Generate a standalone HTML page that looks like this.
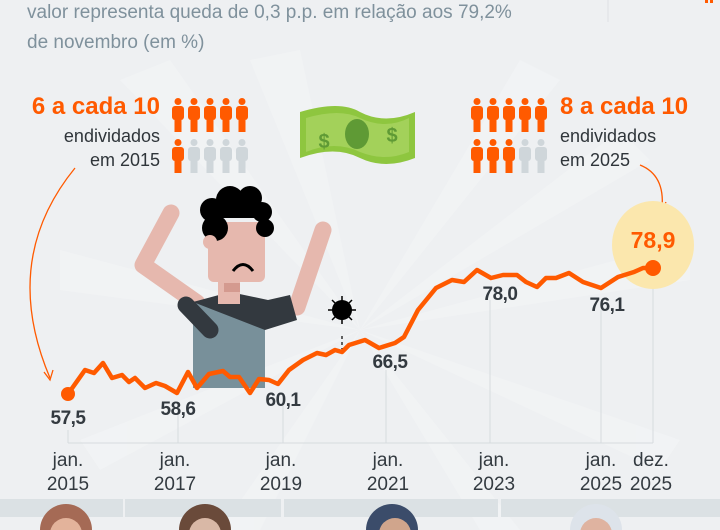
<!DOCTYPE html>
<html><head><meta charset="utf-8"><style>
body{margin:0;width:720px;height:530px;overflow:hidden;background:#eef0f2;font-family:"Liberation Sans",sans-serif}
</style></head><body>
<svg width="720" height="530" viewBox="0 0 720 530" style="position:absolute;left:0;top:0" font-family="Liberation Sans, sans-serif">
<g fill="#f4f5f6" opacity="0.6">
<polygon points="360,330 120,80 170,60"/><polygon points="360,330 250,60 300,50"/><polygon points="360,330 520,60 560,80"/>
<polygon points="360,330 60,250 60,290"/><polygon points="360,330 80,440 100,470"/><polygon points="360,330 220,530 260,530"/>
<polygon points="360,330 480,530 520,530"/><polygon points="360,330 680,440 660,470"/><polygon points="360,330 690,240 690,280"/>
<polygon points="360,330 620,130 650,160"/>
</g>
<line x1="608" y1="0" x2="608" y2="22" stroke="#dde1e4"/>
<text x="27" y="18" font-size="19" fill="#7f919c">valor representa queda de 0,3 p.p. em relação aos 79,2%</text>
<text x="27" y="48" font-size="19" fill="#7f919c">de novembro (em %)</text>
<rect x="705" y="0" width="3" height="3" fill="#ff5a00"/><rect x="710" y="0" width="3" height="3" fill="#ff5a00"/>
<text x="160" y="114" font-size="24" font-weight="bold" fill="#ff5a00" text-anchor="end">6 a cada 10</text>
<text x="160" y="142" font-size="18" fill="#2f353a" text-anchor="end">endividados</text>
<text x="160" y="166" font-size="18" fill="#2f353a" text-anchor="end">em 2015</text>
<text x="560" y="114" font-size="24" font-weight="bold" fill="#ff5a00">8 a cada 10</text>
<text x="560" y="142" font-size="18" fill="#2f353a">endividados</text>
<text x="560" y="166" font-size="18" fill="#2f353a">em 2025</text>
<defs>
<g id="p"><circle cx="7" cy="3.5" r="3.5"/><rect x="1" y="8" width="12" height="14" rx="3"/><rect x="3.5" y="18" width="7" height="16"/></g>
</defs>
<g fill="#ff5a00">
<use href="#p" x="171" y="98"/><use href="#p" x="187" y="98"/><use href="#p" x="203" y="98"/><use href="#p" x="219" y="98"/><use href="#p" x="235" y="98"/>
<use href="#p" x="171" y="139"/>
<use href="#p" x="470" y="98"/><use href="#p" x="486" y="98"/><use href="#p" x="502" y="98"/><use href="#p" x="518" y="98"/><use href="#p" x="534" y="98"/>
<use href="#p" x="470" y="139"/><use href="#p" x="486" y="139"/><use href="#p" x="502" y="139"/>
</g>
<g fill="#cfd6da">
<use href="#p" x="187" y="139"/><use href="#p" x="203" y="139"/><use href="#p" x="219" y="139"/><use href="#p" x="235" y="139"/>
<use href="#p" x="518" y="139"/><use href="#p" x="534" y="139"/>
</g>
<path d="M300,112 Q340,100 360,112 Q385,125 415,112 L415,158 Q385,170 360,158 Q335,145 300,158 Z" fill="#8ec63f"/>
<path d="M306,118 Q340,108 360,118 Q385,130 409,118 L409,152 Q385,162 360,152 Q335,140 306,152 Z" fill="#a3d15a"/>
<ellipse cx="357" cy="134" rx="12" ry="15" fill="#5f9a35"/>
<text x="324" y="148" font-size="20" font-weight="bold" fill="#5f9a35" text-anchor="middle">$</text>
<text x="392" y="142" font-size="20" font-weight="bold" fill="#5f9a35" text-anchor="middle">$</text>
<path d="M75,168 Q0,260 50,378" fill="none" stroke="#ff5a00" stroke-width="1.3"/>
<path d="M44,372 L50,380 L53,370" fill="none" stroke="#ff5a00" stroke-width="1.3"/>
<path d="M640,165 Q665,175 662,208" fill="none" stroke="#ff5a00" stroke-width="1.3"/>
<path d="M658,202 L662,210 L666,202" fill="none" stroke="#ff5a00" stroke-width="1.3"/>
<g stroke="#d6dbde" stroke-width="1">
<line x1="68" y1="430" x2="68" y2="443"/><line x1="178" y1="410" x2="178" y2="443"/><line x1="283" y1="405" x2="283" y2="443"/>
<line x1="386" y1="370" x2="386" y2="443"/><line x1="490" y1="300" x2="490" y2="443"/><line x1="601" y1="310" x2="601" y2="443"/>
<line x1="653" y1="270" x2="653" y2="443"/><line x1="68" y1="443" x2="653" y2="443"/>
</g>
<g stroke="#e6b8ae" stroke-width="17" stroke-linecap="round" stroke-linejoin="round" fill="none">
<polyline points="171,213 143,265 197,303"/>
<polyline points="323,230 297,307"/>
</g>
<rect x="193" y="302" width="72" height="86" fill="#78909a"/>
<path d="M193,302 L230,292 L268,300 L290,295 L297,320 L265,330 Z" fill="#33393f"/>
<line x1="186" y1="305" x2="210" y2="330" stroke="#33393f" stroke-width="17" stroke-linecap="round"/>
<rect x="218" y="270" width="22" height="34" fill="#e6b8ae"/>
<rect x="208" y="222" width="57" height="60" rx="6" fill="#e6b8ae"/>
<rect x="224" y="283" width="16" height="9" fill="#d49a8f"/>
<g fill="#000"><circle cx="215" cy="228" r="13"/><circle cx="212" cy="210" r="12"/><circle cx="230" cy="200" r="14"/><circle cx="250" cy="198" r="12"/><circle cx="262" cy="212" r="10"/><circle cx="265" cy="228" r="9"/><rect x="215" y="200" width="45" height="18"/></g>
<circle cx="210" cy="242" r="7" fill="#e6b8ae"/>
<path d="M233,271 Q243,258 253,271" fill="none" stroke="#000" stroke-width="3"/>
<circle cx="342" cy="310" r="10" fill="#000"/>
<g stroke="#000" stroke-width="1.5"><line x1="342" y1="296" x2="342" y2="324"/><line x1="328" y1="310" x2="356" y2="310"/><line x1="332" y1="300" x2="352" y2="320"/><line x1="352" y1="300" x2="332" y2="320"/></g>
<line x1="342" y1="336" x2="342" y2="352" stroke="#000" stroke-width="1.2" stroke-dasharray="3,3"/>
<ellipse cx="653" cy="245" rx="41" ry="44" fill="#fbe7ad"/>
<polyline fill="none" stroke="#ff5a00" stroke-width="4.5" stroke-linejoin="round" points="68,394 85,370 94,373 103,363 112,378 122,375 129,382 135,378 145,388 156,383 165,386 177,393 188,372 197,388 209,374 223,371 230,377 239,377 250,393 259,379 269,380 278,384 289,370 303,360 317,353 326,355 335,350 342,352 349,345 365,340 379,348 395,343 404,337 418,310 436,288 452,280 464,282 477,270 491,278 503,275 517,275 526,282 537,287 546,278 556,278 569,273 583,282 601,288 618,277 634,272 643,268 653,268"/>
<circle cx="68" cy="394" r="7" fill="#ff5a00"/><circle cx="653" cy="268" r="8" fill="#ff5a00"/>
<text x="653" y="248" font-size="23" font-weight="bold" fill="#ff5a00" text-anchor="middle">78,9</text>
<g font-size="19" font-weight="bold" fill="#333a40" text-anchor="middle" letter-spacing="-0.5">
<text x="68" y="424">57,5</text><text x="178" y="415">58,6</text><text x="283" y="406">60,1</text>
<text x="390" y="368">66,5</text><text x="500" y="300">78,0</text><text x="607" y="311">76,1</text>
</g>
<g font-size="19" fill="#333a40" text-anchor="middle">
<text x="68" y="466">jan.</text><text x="68" y="490">2015</text>
<text x="175" y="466">jan.</text><text x="175" y="490">2017</text>
<text x="281" y="466">jan.</text><text x="281" y="490">2019</text>
<text x="388" y="466">jan.</text><text x="388" y="490">2021</text>
<text x="494" y="466">jan.</text><text x="494" y="490">2023</text>
<text x="601" y="466">jan.</text><text x="601" y="490">2025</text>
<text x="651" y="466">dez.</text><text x="651" y="490">2025</text>
</g>
<g fill="#dbe1e4"><rect x="0" y="499" width="123" height="18"/><rect x="125" y="499" width="156" height="18"/><rect x="284" y="499" width="214" height="18"/><rect x="501" y="499" width="219" height="18"/></g>
<circle cx="66" cy="530" r="26" fill="#a56a55"/><circle cx="66" cy="534" r="16" fill="#e3b39b"/>
<circle cx="205" cy="530" r="26" fill="#6a4a3a"/><circle cx="205" cy="534" r="16" fill="#d9b8a6"/>
<circle cx="392" cy="530" r="26" fill="#3b4c6a"/><circle cx="395" cy="534" r="16" fill="#d0a58c"/>
<circle cx="596" cy="530" r="26" fill="#dde3ea"/><circle cx="596" cy="534" r="16" fill="#dfb3a0"/>
</svg>
</body></html>
